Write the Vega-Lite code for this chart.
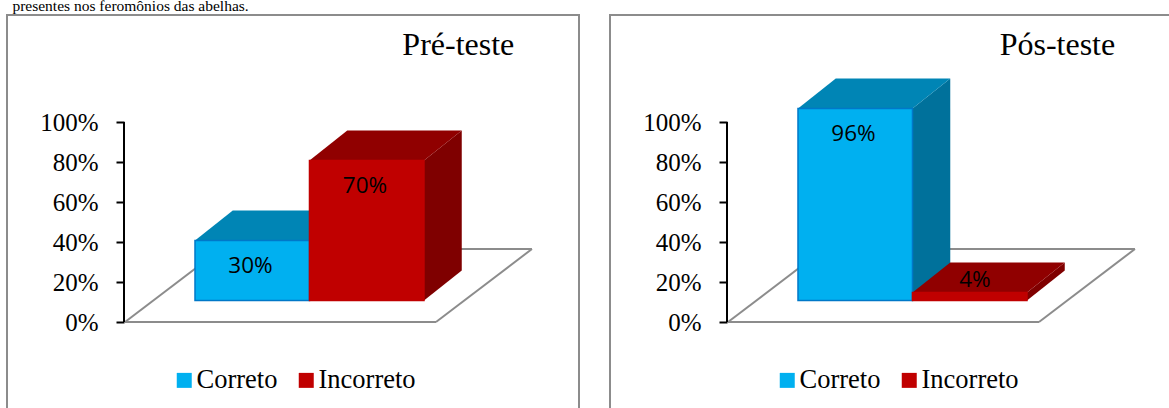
{
  "$schema": "https://vega.github.io/schema/vega-lite/v6.json",
  "padding": {"left": 6, "top": -3, "right": 0, "bottom": 0},
  "config": {"view": {"stroke": "#8c8c8c", "strokeWidth": 2, "fill": "white"}, "background": "white"},
  "data": {"values": [
    {"painel": "Pré-teste", "categoria": "Correto", "valor": 30, "slot": 0},
    {"painel": "Pré-teste", "categoria": "Incorreto", "valor": 70, "slot": 1},
    {"painel": "Pós-teste", "categoria": "Correto", "valor": 96, "slot": 0},
    {"painel": "Pós-teste", "categoria": "Incorreto", "valor": 4, "slot": 1}
  ]},
  "transform": [
    {"calculate": "10.75", "as": "base"},
    {"calculate": "datum.base + datum.valor", "as": "topo"}
  ],
  "facet": {"column": {"field": "painel", "type": "nominal", "sort": ["Pré-teste", "Pós-teste"], "header": null}},
  "spacing": 29,
  "resolve": {
    "axis": {"y": "independent"},
    "legend": {"color": "independent"},
    "scale": {"color": "independent"}
  },
  "spec": {
    "width": 572,
    "height": 395,
    "resolve": {"scale": {"color": "independent"}},
    "encoding": {
      "x": {"type": "quantitative", "scale": {"domain": [-1.642, 3.354], "nice": false, "zero": false}, "axis": null},
      "y": {"type": "quantitative", "scale": {"domain": [-44, 153.5], "nice": false, "zero": false}}
    },
    "layer": [
      {
        "data": {"values": [{}]},
        "mark": {"type": "rule", "color": "#8c8c8c", "strokeWidth": 2},
        "encoding": {"x": {"datum": -0.611}, "x2": {"datum": 2.105}, "y": {"datum": 0}}
      },
      {
        "data": {"values": [{}]},
        "mark": {"type": "rule", "color": "#8c8c8c", "strokeWidth": 2},
        "encoding": {"x": {"datum": 0.227}, "x2": {"datum": 2.943}, "y": {"datum": 36.5}}
      },
      {
        "data": {"values": [{}]},
        "mark": {"type": "rule", "color": "#8c8c8c", "strokeWidth": 2},
        "encoding": {"x": {"datum": -0.611}, "x2": {"datum": 0.227}, "y": {"datum": 0}, "y2": {"datum": 36.5}}
      },
      {
        "data": {"values": [{}]},
        "mark": {"type": "rule", "color": "#8c8c8c", "strokeWidth": 2},
        "encoding": {"x": {"datum": 2.105}, "x2": {"datum": 2.943}, "y": {"datum": 0}, "y2": {"datum": 36.5}}
      },
      {
        "data": {"values": [{}]},
        "mark": {"type": "rule", "color": "black", "strokeWidth": 2},
        "encoding": {
          "x": {"datum": -0.62},
          "y": {
            "datum": 0,
            "axis": {
              "title": null, "values": [0, 20, 40, 60, 80, 100], "labelExpr": "datum.value + '%'",
              "offset": -117, "domain": false, "grid": false,
              "tickColor": "black", "tickWidth": 2, "tickSize": 8, "labelPadding": 18,
              "labelFont": "Liberation Serif", "labelFontSize": 25, "labelColor": "black"
            }
          },
          "y2": {"datum": 100}
        }
      },
      {
        "transform": [
          {"calculate": "[0, 1]", "as": "k"},
          {"flatten": ["k"]},
          {"calculate": "datum.slot + 1 + datum.k * 0.33", "as": "px"},
          {"calculate": "datum.base + datum.k * 15", "as": "baixo"},
          {"calculate": "datum.topo + datum.k * 15", "as": "alto"}
        ],
        "mark": {"type": "area", "orient": "vertical"},
        "encoding": {
          "x": {"field": "px", "type": "quantitative"},
          "y": {"field": "baixo", "type": "quantitative", "stack": null},
          "y2": {"field": "alto"},
          "color": {"field": "categoria", "type": "nominal", "legend": null,
            "scale": {"domain": ["Correto", "Incorreto"], "range": ["#00719B", "#7F0000"]}}
        }
      },
      {
        "transform": [
          {"calculate": "[0, 1, 2, 3]", "as": "k"},
          {"flatten": ["k"]},
          {"calculate": "datum.slot + [0, 0.33, 1, 1.33][datum.k]", "as": "px"},
          {"calculate": "datum.topo + [0, 0, 0, 15][datum.k]", "as": "baixo"},
          {"calculate": "datum.topo + [0, 15, 15, 15][datum.k]", "as": "alto"}
        ],
        "mark": {"type": "area", "orient": "vertical"},
        "encoding": {
          "x": {"field": "px", "type": "quantitative"},
          "y": {"field": "baixo", "type": "quantitative", "stack": null},
          "y2": {"field": "alto"},
          "color": {"field": "categoria", "type": "nominal", "legend": null,
            "scale": {"domain": ["Correto", "Incorreto"], "range": ["#0085B5", "#900000"]}}
        }
      },
      {
        "transform": [
          {"calculate": "datum.slot + 1", "as": "fim"}
        ],
        "mark": {"type": "rect", "strokeWidth": 1.5},
        "encoding": {
          "x": {"field": "slot", "type": "quantitative"},
          "x2": {"field": "fim"},
          "y": {"field": "base", "type": "quantitative"},
          "y2": {"field": "topo"},
          "stroke": {
            "field": "categoria", "type": "nominal", "legend": null,
            "scale": {"domain": ["Correto", "Incorreto"], "range": ["#0078C8", "#C00000"]}
          },
          "color": {
            "field": "categoria", "type": "nominal",
            "scale": {"domain": ["Correto", "Incorreto"], "range": ["#00B0F0", "#C00000"]},
            "legend": {
              "title": null, "orient": "none", "legendX": 164, "legendY": 352, "direction": "horizontal", "columns": 2,
              "symbolType": "square", "symbolSize": 225, "columnPadding": 15, "labelOffset": -1,
              "labelFont": "Liberation Serif", "labelFontSize": 26.5, "labelColor": "black", "padding": 0
            }
          }
        }
      },
      {
        "transform": [
          {"calculate": "datum.slot + (datum.valor < 10 ? 0.545 : 0.485)", "as": "lx"},
          {"calculate": "max(datum.topo - 12.5, 21)", "as": "ly"},
          {"calculate": "datum.valor + '%'", "as": "rotulo"}
        ],
        "mark": {"type": "text", "font": "Open Sans", "fontSize": 22.5, "color": "black"},
        "encoding": {
          "x": {"field": "lx", "type": "quantitative"},
          "y": {"field": "ly", "type": "quantitative"},
          "text": {"field": "rotulo"}
        }
      },
      {
        "transform": [
          {"filter": "datum.slot === 0"},
          {"calculate": "datum.painel === 'Pré-teste' ? 2.30 : 2.266", "as": "tx"}
        ],
        "mark": {"type": "text", "font": "Liberation Serif", "fontSize": 32, "color": "black"},
        "encoding": {
          "x": {"field": "tx", "type": "quantitative"},
          "y": {"datum": 138.5},
          "text": {"field": "painel"}
        }
      },
      {
        "transform": [
          {"filter": "datum.slot === 0 && datum.painel === 'Pré-teste'"},
          {"calculate": "'presentes nos feromônios das abelhas.'", "as": "legenda"}
        ],
        "mark": {"type": "text", "font": "Liberation Serif", "fontSize": 15.5, "color": "black", "align": "left", "baseline": "alphabetic", "clip": false},
        "encoding": {
          "x": {"datum": -1.595},
          "y": {"datum": 155.5},
          "text": {"field": "legenda"}
        }
      }
    ]
  }
}
